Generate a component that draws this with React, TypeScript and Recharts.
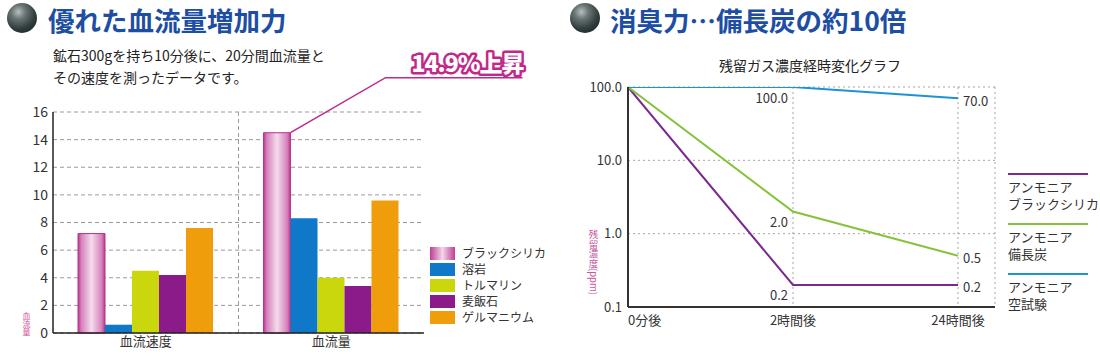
import React from 'react';
import {
  BarChart,
  Bar,
  XAxis,
  YAxis,
  CartesianGrid,
  Legend,
  LineChart,
  Line,
  LabelList,
} from 'recharts';

const FONT = '"Noto Sans CJK JP", "Noto Sans", sans-serif';

// ---------- left chart data ----------
const leftTitle = '優れた血流量増加力';
const leftNote1 = '鉱石300gを持ち10分後に、20分間血流量と';
const leftNote2 = 'その速度を測ったデータです。';
const calloutText = '14.9%上昇';
const barAxisLabel = '血流量';
const barCategories = ['血流速度', '血流量'];
const barSeriesNames = ['ブラックシリカ', '溶岩', 'トルマリン', '麦飯石', 'ゲルマニウム'];
const blackSilica = [7.2, 14.5];
const lava = [0.6, 8.3];
const tourmaline = [4.5, 4.0];
const bakuhanseki = [4.2, 3.4];
const germanium = [7.6, 9.6];
const barTicks = [0, 2, 4, 6, 8, 10, 12, 14, 16];
const barColors = ['url(#pinkGrad)', '#0f78c8', '#c9d70c', '#8a1b88', '#f09d0c'];
const legendSwatches = [
  'linear-gradient(to right, #bf3f93, #f2d6ea 50%, #bf3f93)',
  '#0f78c8',
  '#c9d70c',
  '#8a1b88',
  '#f09d0c',
];

const barSeriesValues = [blackSilica, lava, tourmaline, bakuhanseki, germanium];
const barData = barCategories.map((cat, i) => {
  const row: Record<string, string | number> = { cat };
  barSeriesNames.forEach((n, s) => {
    row[n] = barSeriesValues[s][i];
  });
  return row;
});

// ---------- right chart data ----------
const rightTitle = '消臭力…備長炭の約10倍';
const rightSubtitle = '残留ガス濃度経時変化グラフ';
const lineAxisLabel = '残留濃度(ppm)';
const timeLabels = ['0分後', '2時間後', '24時間後'];
const silicaPpm = [100, 0.2, 0.2];
const binchotanPpm = [100, 2.0, 0.5];
const blankPpm = [100, 100, 70];
const ppmTicks = [0.1, 1, 10, 100];
const lineKeys = ['silica', 'binchotan', 'blank'];
const lineNames = [
  ['アンモニア', 'ブラックシリカ'],
  ['アンモニア', '備長炭'],
  ['アンモニア', '空試験'],
];
const lineColors = ['#7a2a8e', '#86c23a', '#1b93d8'];
const lineValues = [silicaPpm, binchotanPpm, blankPpm];

const lineData = timeLabels.map((t, i) => {
  const row: Record<string, string | number> = { t };
  lineKeys.forEach((k, s) => {
    row[k] = lineValues[s][i];
  });
  return row;
});

// ---------- helpers ----------
const Sphere = ({ left, top }: { left: number; top: number }) => (
  <div
    style={{
      position: 'absolute',
      left,
      top,
      width: 30,
      height: 30,
      borderRadius: '50%',
      background:
        'radial-gradient(circle at 38% 30%, #b7c0c0 0%, #6a7575 25%, #323c3c 60%, #151b1b 100%)',
    }}
  />
);

const VerticalLabel = ({
  text,
  size,
  color,
  left,
  top,
}: {
  text: string;
  size: number;
  color: string;
  left: number;
  top: number;
}) => (
  <div
    style={{
      position: 'absolute',
      left,
      top,
      fontSize: size,
      lineHeight: `${size + 2}px`,
      color,
      writingMode: 'vertical-rl',
      textOrientation: 'mixed',
      whiteSpace: 'nowrap',
    }}
  >
    {text}
  </div>
);

const Callout = (props: any) => {
  const { x, y, width, index } = props;
  if (index !== 1) return null;
  const bx = Number(x) + Number(width);
  const by = Number(y);
  return (
    <g>
      <path
        d={`M${bx},${by} L${bx + 95},${by - 55} L${bx + 232},${by - 55}`}
        fill="none"
        stroke="#c0288a"
        strokeWidth={1.5}
      />
      <text
        x={bx + 177}
        y={by - 61}
        textAnchor="middle"
        fontSize={23}
        fontWeight={900}
        fill="#ffffff"
        stroke="#c0288a"
        strokeWidth={5}
        strokeLinejoin="round"
        style={{ paintOrder: 'stroke', letterSpacing: -1 }}
      >
        {calloutText}
      </text>
    </g>
  );
};

const BarLegend = () => (
  <div style={{ fontFamily: FONT }}>
    {barSeriesNames.map((n, i) => (
      <div key={n} style={{ display: 'flex', alignItems: 'center', height: 16 }}>
        <div style={{ width: 25, height: 13, background: legendSwatches[i], marginRight: 7 }} />
        <span style={{ fontSize: 12, color: '#333', lineHeight: '16px' }}>{n}</span>
      </div>
    ))}
  </div>
);

const LineLegend = () => (
  <div style={{ fontFamily: FONT }}>
    {lineNames.map((parts, i) => (
      <div key={i} style={{ height: 50 }}>
        <div style={{ width: 80, height: 2, background: lineColors[i], marginBottom: 3 }} />
        {parts.map((p) => (
          <div key={p} style={{ fontSize: 13, lineHeight: '17px', color: '#333' }}>
            {p}
          </div>
        ))}
      </div>
    ))}
  </div>
);

const TimeTick = (props: any) => {
  const { x, y, payload, index } = props;
  return (
    <text
      x={x}
      y={y}
      dy="0.71em"
      textAnchor={index === 0 ? 'start' : 'middle'}
      fontSize={13}
      fill="#333"
    >
      {payload.value}
    </text>
  );
};

const makeValueLabel = (props: any) => {
  const { x, y, value, index } = props;
  if (index === 0) return null;
  const left = index === 1;
  return (
    <text
      x={left ? Number(x) - 5 : Number(x) + 5}
      y={left ? Number(y) + 10 : Number(y) + 2}
      textAnchor={left ? 'end' : 'start'}
      dominantBaseline="central"
      fontSize={13}
      fill="#333"
    >
      {Number(value).toFixed(1)}
    </text>
  );
};

export default function App() {
  return (
    <div
      style={{
        position: 'absolute',
        left: 0,
        top: 0,
        width: 1100,
        height: 360,
        background: '#fff',
        fontFamily: FONT,
        color: '#222',
        overflow: 'hidden',
      }}
    >
      {/* left header */}
      <Sphere left={7} top={3} />
      <div
        style={{
          position: 'absolute',
          left: 48,
          top: 0,
          fontSize: 26.5,
          lineHeight: '39px',
          fontWeight: 700,
          color: '#1d4ea3',
          whiteSpace: 'nowrap',
        }}
      >
        {leftTitle}
      </div>
      <div
        style={{
          position: 'absolute',
          left: 53,
          top: 44,
          fontSize: 14,
          lineHeight: '22px',
          color: '#222',
          whiteSpace: 'nowrap',
        }}
      >
        <div>{leftNote1}</div>
        <div>{leftNote2}</div>
      </div>
      <VerticalLabel text={barAxisLabel} size={8} color="#d0509a" left={21} top={312} />

      {/* right header */}
      <Sphere left={570} top={3} />
      <div
        style={{
          position: 'absolute',
          left: 610,
          top: 0,
          fontSize: 26.5,
          lineHeight: '39px',
          fontWeight: 700,
          color: '#1d4ea3',
          whiteSpace: 'nowrap',
        }}
      >
        {rightTitle}
      </div>
      <div
        style={{
          position: 'absolute',
          left: 660,
          width: 300,
          top: 55,
          textAlign: 'center',
          fontSize: 14,
          lineHeight: '20px',
          color: '#222',
          whiteSpace: 'nowrap',
        }}
      >
        {rightSubtitle}
      </div>
      <VerticalLabel text={lineAxisLabel} size={9.5} color="#c8559e" left={587} top={230} />

      {/* left bar chart */}
      <div style={{ position: 'absolute', left: 0, top: 0 }}>
        <BarChart
          width={560}
          height={360}
          data={barData}
          margin={{ top: 112, right: 136, left: 0, bottom: 0 }}
          barCategoryGap={25}
          barGap={0}
        >
          <defs>
            <linearGradient id="pinkGrad" x1="0" x2="1" y1="0" y2="0">
              <stop offset="0%" stopColor="#b8358a" />
              <stop offset="12%" stopColor="#d680bb" />
              <stop offset="50%" stopColor="#f4dced" />
              <stop offset="88%" stopColor="#d680bb" />
              <stop offset="100%" stopColor="#b8358a" />
            </linearGradient>
          </defs>
          <CartesianGrid
            horizontal
            vertical
            stroke="#9a9a9a"
            strokeDasharray="4 3"
            verticalCoordinatesGenerator={(p: any) =>
              p && p.offset ? [p.offset.left + p.offset.width / 2] : []
            }
          />
          <XAxis
            dataKey="cat"
            height={27}
            tickLine={false}
            tickSize={0}
            tickMargin={4}
            axisLine={{ stroke: '#222', strokeWidth: 1.5 }}
            tick={{ fontSize: 13, fill: '#333' }}
          />
          <XAxis
            xAxisId="top"
            dataKey="cat"
            orientation="top"
            height={0}
            tick={false}
            tickLine={false}
            axisLine={{ stroke: '#333', strokeWidth: 1.5 }}
          />
          <YAxis
            width={53}
            domain={[0, 16]}
            ticks={barTicks}
            interval={0}
            tickLine={false}
            tickSize={0}
            tickMargin={5}
            axisLine={{ stroke: '#222', strokeWidth: 1.5 }}
            tick={{ fontSize: 14, fill: '#333' }}
          />
          <YAxis
            yAxisId="right"
            orientation="right"
            width={0}
            tick={false}
            tickLine={false}
            axisLine={{ stroke: '#333', strokeWidth: 1.5 }}
          />
          {barSeriesNames.map((n, i) => (
            <Bar
              key={n}
              dataKey={n}
              name={n}
              fill={barColors[i]}
              stroke={i === 0 ? '#b8358a' : 'none'}
              strokeWidth={i === 0 ? 1 : 0}
              isAnimationActive={false}
            >
              {i === 0 ? <LabelList dataKey={n} content={Callout} /> : null}
            </Bar>
          ))}
          <Legend
            layout="vertical"
            align="center"
            verticalAlign="middle"
            content={BarLegend}
            wrapperStyle={{ position: 'absolute', left: 430, top: 245, width: 130, height: 82 }}
          />
        </BarChart>
      </div>

      {/* right line chart */}
      <div style={{ position: 'absolute', left: 560, top: 0 }}>
        <LineChart
          width={540}
          height={360}
          data={lineData}
          margin={{ top: 87, right: 105, left: 0, bottom: 0 }}
        >
          <CartesianGrid stroke="#a5a5a5" strokeDasharray="2 3" />
          <XAxis
            dataKey="t"
            height={53}
            padding={{ left: 0, right: 37 }}
            tickLine={false}
            tickSize={0}
            tickMargin={9}
            interval={0}
            axisLine={{ stroke: '#333', strokeWidth: 2 }}
            tick={TimeTick}
          />
          <XAxis
            xAxisId="top"
            dataKey="t"
            orientation="top"
            height={0}
            tick={false}
            tickLine={false}
            axisLine={{ stroke: '#777', strokeWidth: 1 }}
          />
          <YAxis
            width={68}
            scale="log"
            domain={[0.1, 100]}
            ticks={ppmTicks}
            interval={0}
            allowDataOverflow
            tickLine={false}
            tickSize={0}
            tickMargin={6}
            axisLine={{ stroke: '#333', strokeWidth: 2 }}
            tick={{ fontSize: 13, fill: '#333' }}
            tickFormatter={(v: number) => v.toFixed(1)}
          />
          <YAxis
            yAxisId="right"
            orientation="right"
            width={0}
            tick={false}
            tickLine={false}
            axisLine={{ stroke: '#777', strokeWidth: 1 }}
          />
          {lineKeys.map((k, i) => (
            <Line
              key={k}
              type="linear"
              dataKey={k}
              name={lineNames[i].join('')}
              stroke={lineColors[i]}
              strokeWidth={2}
              dot={false}
              activeDot={false}
              isAnimationActive={false}
            >
              <LabelList dataKey={k} content={makeValueLabel} />
            </Line>
          ))}
          <Legend
            layout="vertical"
            align="center"
            verticalAlign="middle"
            content={LineLegend}
            wrapperStyle={{ position: 'absolute', left: 448, top: 173, width: 92, height: 150 }}
          />
        </LineChart>
      </div>
    </div>
  );
}
